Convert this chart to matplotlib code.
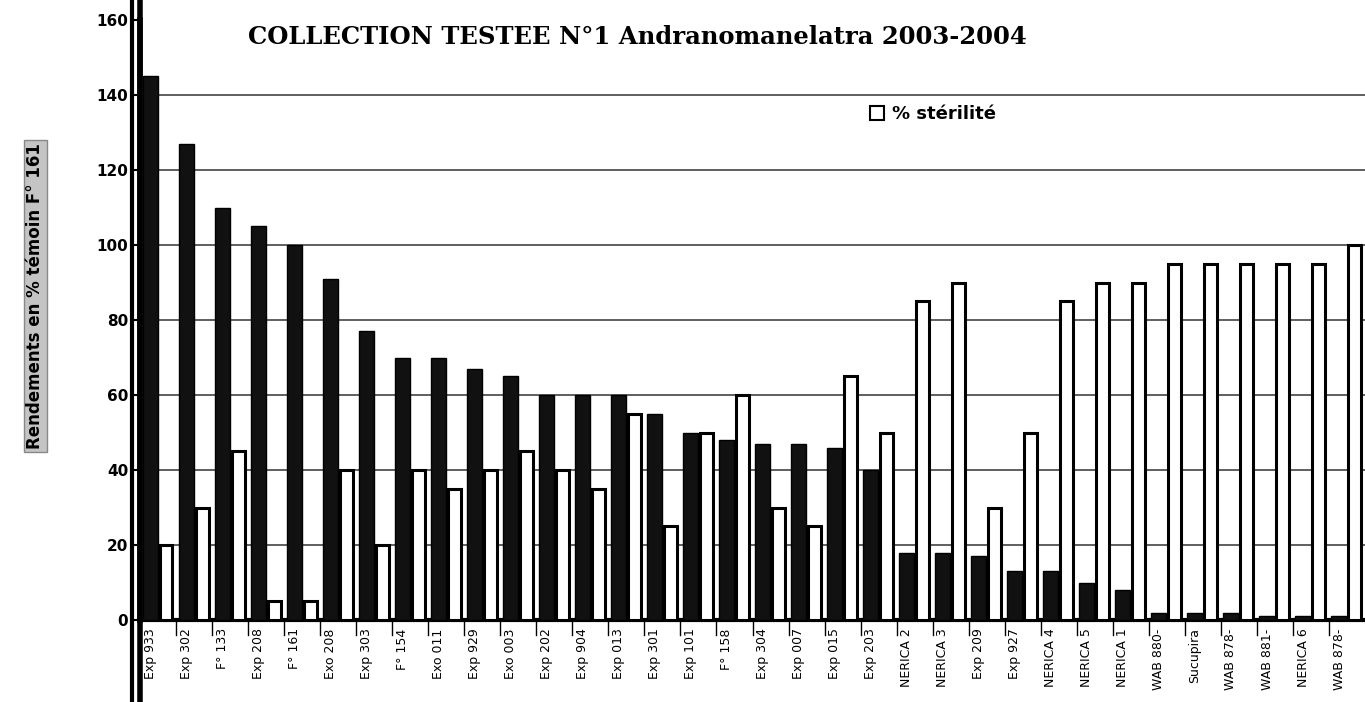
import numpy as np
import matplotlib
matplotlib.use("Agg")
import matplotlib.pyplot as plt
from matplotlib.lines import Line2D
from matplotlib.patches import Patch

# varieties (x axis)
varietes = ["Exp 933", "Exp 302", "F° 133", "Exp 208", "F° 161", "Exo 208",
            "Exp 303", "F° 154", "Exo 011", "Exp 929", "Exo 003", "Exp 202",
            "Exp 904", "Exp 013", "Exp 301", "Exp 101", "F° 158", "Exp 304",
            "Exp 007", "Exp 015", "Exp 203", "NERICA 2", "NERICA 3", "Exp 209",
            "Exp 927", "NERICA 4", "NERICA 5", "NERICA 1", "WAB 880-", "Sucupira",
            "WAB 878-", "WAB 881-", "NERICA 6", "WAB 878-"]

# rendement en % du temoin F° 161 (barres noires)
rendement = [145, 127, 110, 105, 100, 91, 77, 70, 70, 67, 65, 60, 60, 60, 55,
             50, 48, 47, 47, 46, 40, 18, 18, 17, 13, 13, 10, 8, 2, 2, 2, 1, 1, 1]

# % sterilite (barres blanches)
sterilite = [20, 30, 45, 5, 5, 40, 20, 40, 35, 40, 45, 40, 35, 55, 25,
             50, 60, 30, 25, 65, 50, 85, 90, 30, 50, 85, 90, 90, 95, 95, 95, 95, 95, 100]

yticks = list(range(0, 161, 20))

fig = plt.figure(figsize=(13.65, 7.02), dpi=100)
ax = fig.add_axes([0.1026, 0.1168, 0.8974, 0.8547])

x = np.arange(len(varietes))
ax.bar(x + 0.28, rendement, width=0.42, color="#111111", edgecolor="black", zorder=3)
ax.bar(x + 0.72, sterilite, width=0.36, color="white", edgecolor="black",
       linewidth=2.2, zorder=3)

ax.set_xlim(0, len(varietes))
ax.set_ylim(0, 160)
ax.set_yticks(yticks)
ax.set_yticklabels([str(v) for v in yticks], fontsize=11, fontweight="bold")
ax.tick_params(axis="y", length=5, width=1.5)
# grid lines (none at the top value)
for v in yticks[1:-1]:
    ax.axhline(v, color="#444444", linewidth=1.2, zorder=0)

ax.set_xticks(x + 0.28)
ax.set_xticklabels(varietes, rotation=90, fontsize=9, family="Liberation Sans Narrow")
ax.tick_params(axis="x", length=0, pad=6)
# small ticks between categories
for xi in x[1:]:
    ax.plot([xi, xi], [0, -4], color="black", lw=1, clip_on=False)

for s in ["top", "right"]:
    ax.spines[s].set_visible(False)
ax.spines["left"].set_linewidth(4)
ax.spines["bottom"].set_linewidth(3)

# double left frame line down to the bottom of the image
fig.add_artist(Line2D([0.1026, 0.1026], [0, 1], color="black", lw=4))
fig.add_artist(Line2D([0.0967, 0.0967], [0, 1], color="black", lw=3))

fig.text(0.467, 0.948, "COLLECTION TESTEE N°1 Andranomanelatra 2003-2004",
         ha="center", va="center", fontsize=17.5,
         fontweight="bold", family="DejaVu Serif")

leg = ax.legend([Patch(facecolor="white", edgecolor="black", linewidth=1.5)],
                ["% stérilité"], loc="upper left", bbox_to_anchor=(0.59, 0.87),
                frameon=True, edgecolor="none", fontsize=13, handlelength=0.8,
                handleheight=0.8, handletextpad=0.4, borderaxespad=0)
for t in leg.get_texts():
    t.set_fontweight("bold")

fig.text(0.026, 0.578, "Rendements en % témoin F° 161", rotation=90,
         ha="center", va="center", fontsize=12, fontweight="bold",
         bbox=dict(facecolor="#c4c4c4", edgecolor="#888888", pad=2))

fig.savefig("out.png", dpi=100)
